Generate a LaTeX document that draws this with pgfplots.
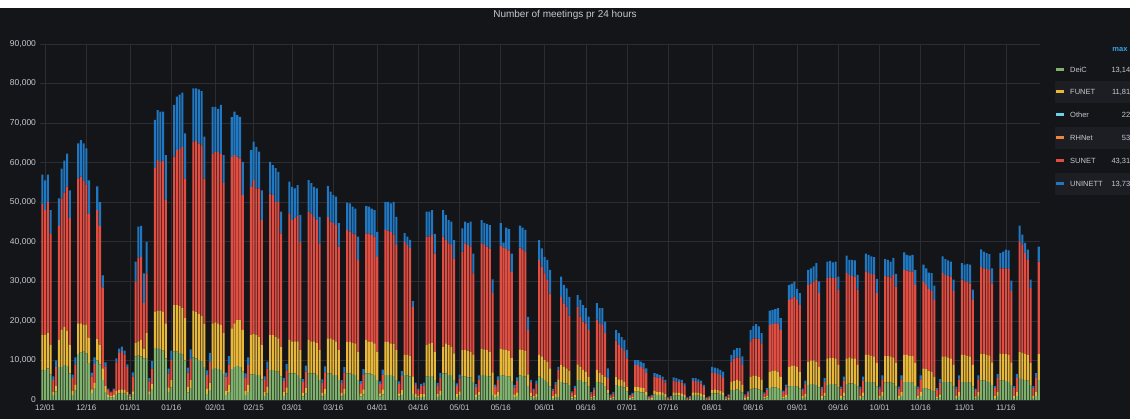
\documentclass[border=0pt]{standalone}
\usepackage{fontspec}
\setmainfont{Liberation Sans}
\usepackage{pgfplots}
\usepackage{pgfplotstable}
\pgfplotsset{compat=1.18}
\pgfdeclarelayer{background}
\pgfsetlayers{background,main}
\definecolor{bg}{HTML}{141519}
\definecolor{gridc}{HTML}{2B2D32}
\definecolor{txt}{HTML}{C4C8CE}
\definecolor{rowbg}{HTML}{1D1E23}
\definecolor{cDeiC}{HTML}{7EB26D}
\definecolor{cFUNET}{HTML}{EAB839}
\definecolor{cOther}{HTML}{6ED0E0}
\definecolor{cRHNet}{HTML}{EF843C}
\definecolor{cSUNET}{HTML}{E24D42}
\definecolor{cUNINETT}{HTML}{1F78C1}
\definecolor{cmax}{HTML}{33A2E5}

\pgfplotstableread{
d G F S U
-1 7500 9000 33000 7500
0 7600 8900 31500 7500
1 8000 9000 33000 7000
2 6500 7500 28000 6000
3 1200 900 3000 900
4 2200 1300 4800 1700
5 8300 6900 28800 7000
6 8400 9300 33300 7500
7 8900 9600 34000 8000
8 8600 8900 36500 8300
9 6700 7300 32000 7000
10 1300 1000 3200 900
11 2400 1400 5200 1800
12 11600 7800 36600 8900
13 12000 7400 37100 9200
14 12200 6800 36500 9400
15 11800 7200 35500 9100
16 9300 6400 31300 8500
17 1800 900 3300 900
18 3000 1300 4800 1700
19 10000 5500 32500 6000
20 9000 5000 30000 6000
21 5000 3000 20500 3000
22 2000 1500 5000 1000
23 800 600 1200 300
24 600 400 900 200
25 800 500 1300 300
26 1500 800 7200 1000
27 1700 900 9300 1100
28 1800 900 9700 1100
29 1700 900 8900 1000
30 1300 700 6300 700
31 400 300 600 200
32 1500 700 3800 1000
33 11000 3400 15600 5000
34 11200 3600 21200 7800
35 11000 4200 21000 7800
36 10500 2500 11500 7500
37 10600 6300 15100 8000
38 1500 700 2500 800
39 2800 1200 4000 1800
40 13100 9200 36300 12200
41 13100 9500 38100 12600
42 12900 9700 37600 12700
43 12500 9800 38200 12400
44 10500 8900 31100 11400
45 2000 1200 3500 1200
46 3200 1800 5200 2300
47 12200 11800 37500 13100
48 12200 11800 39200 13500
49 11900 11800 39800 13700
50 11500 11700 40800 13700
51 10000 10700 35300 11400
52 1900 1400 3600 1300
53 3000 2000 5400 2400
54 10800 11800 42700 13500
55 10500 11700 43300 13300
56 10100 11600 43200 13600
57 9700 11600 43100 13700
58 8400 10900 36700 10600
59 1500 1300 3500 1200
60 2500 1900 5200 2300
61 7800 11600 42900 11800
62 8100 11500 43100 11400
63 7800 11600 43300 10900
64 7600 11400 43200 12400
65 6600 10300 37900 7100
66 1200 1200 3500 1000
67 2000 1800 5200 2100
68 7800 10300 43300 10100
69 8400 11000 42500 11000
70 8600 11600 41300 10500
71 8400 11800 40900 10500
72 7200 10500 34100 8400
73 1200 1200 3300 1000
74 2000 1800 5000 2000
75 6500 10000 37400 9300
76 6500 10300 38800 9700
77 6300 10200 37000 10500
78 6300 9700 37500 9300
79 5200 8800 31500 7500
80 1000 1100 3000 900
81 1700 1600 4600 1800
82 7600 8800 35800 8000
83 7600 8800 35400 7600
84 7200 8800 34100 8500
85 7200 8400 34500 7600
86 5900 7600 28600 5500
87 1000 1000 2800 800
88 1700 1500 4300 1600
89 6700 8500 32000 8000
90 6700 8100 30700 8400
91 6700 8100 31200 7500
92 6300 8500 31700 7800
93 5500 7100 27400 6800
94 900 900 2700 800
95 1600 1400 4200 1500
96 6700 8500 32400 8000
97 6700 8100 32400 7600
98 6700 8100 31500 7600
99 6300 8100 31100 8000
100 5100 7500 27000 6700
101 900 900 2600 800
102 1500 1400 4100 1500
103 6700 8900 30700 7800
104 6700 8900 29500 7600
105 6300 8900 29500 7100
106 6300 8500 29400 7200
107 5100 7500 26200 5900
108 900 900 2500 700
109 1500 1400 4000 1400
110 6700 8000 28300 6900
111 6700 8000 27900 7100
112 6600 7900 27600 6800
113 6300 8000 27400 6700
114 5100 7100 23200 5900
115 900 800 2400 700
116 1400 1300 3800 1300
117 6700 8500 26900 6900
118 6700 8000 27400 6800
119 6500 8200 27000 6700
120 6300 8000 27000 6700
121 5100 7100 24000 6300
122 900 800 2300 700
123 1400 1300 3700 1300
124 6300 8400 28300 7100
125 6300 8400 28100 7300
126 6300 8000 28200 7200
127 6100 8000 27800 8200
128 5100 7500 26600 7100
129 900 800 2300 700
130 1300 1200 3600 1200
131 6300 5100 28600 2200
132 6200 5200 27800 2100
133 6000 5200 27200 2100
134 1500 4500 17500 1500
135 700 800 2300 600
136 600 500 1400 400
137 800 700 2000 600
138 800 700 2200 700
139 6000 8000 27300 6300
140 6100 8200 27000 6300
141 6100 8300 27300 6300
142 5000 7200 24800 5000
143 800 700 2200 600
144 1200 1100 3400 1100
145 6700 6800 27800 6700
146 6700 7600 26100 6400
147 6300 7600 25700 5900
148 6300 7200 25700 5900
149 5100 6700 24000 4600
150 800 700 2100 600
151 1200 1000 3200 1000
152 5900 6700 24900 5900
153 5900 6700 27000 5500
154 5700 6800 26700 5500
155 5700 6500 26600 6300
156 4600 6800 20600 5000
157 700 700 2000 600
158 1100 1000 3100 1000
159 6300 6700 26600 5900
160 6300 6500 26400 5600
161 6100 6500 26200 5700
162 6000 6200 26100 5900
163 1200 5800 20000 3500
164 700 700 1900 600
165 1000 1000 3000 1000
166 6300 6700 26000 5700
167 6200 6600 25800 1200
168 6100 6500 25600 5400
169 6000 6400 25400 5400
170 4800 5800 21800 4600
171 700 700 1800 600
172 1000 900 2900 900
173 6200 6600 25700 5600
174 6100 6500 25500 5500
175 6000 6400 25200 5400
176 3500 3000 11200 3300
177 900 900 2700 600
178 500 500 1500 400
179 800 800 2500 800
180 5900 5500 24000 5000
181 5500 5500 22700 4600
182 5100 5000 21900 4200
183 4600 5100 20600 5100
184 3400 4600 18900 6000
185 500 500 1400 400
186 800 700 2300 700
187 700 4500 2500 700
188 4600 4200 17300 5100
189 4200 4200 16000 4700
190 4200 3800 15600 4600
191 3800 3600 13900 4800
192 400 400 1100 300
193 600 600 1800 600
194 5000 4000 14600 2900
195 5100 3300 12700 4200
196 4600 3000 12200 4200
197 4400 2800 12200 3800
198 3400 2500 11800 3400
199 400 300 1000 300
200 600 500 1500 500
201 4600 3000 12700 4200
202 4400 2400 12600 3800
203 4200 2100 12700 4200
204 3500 2400 11000 2900
205 1700 800 3000 2500
206 300 200 600 300
207 400 300 900 400
208 3800 2100 9100 2700
209 3500 1700 8700 3000
210 3400 1700 8000 2800
211 3200 1400 7800 2800
212 2100 1300 7100 2200
213 300 200 500 200
214 400 300 800 300
215 2100 1300 5500 1200
216 2100 1300 5500 1200
217 1900 1300 5200 1300
218 1900 1100 5000 1300
219 1300 800 4700 1200
220 200 150 400 150
221 300 200 600 200
222 1400 900 3600 900
223 1300 800 3600 900
224 1300 700 3500 800
225 1200 700 3300 700
226 800 700 2900 700
227 150 100 300 100
228 200 150 450 150
229 1200 700 3000 800
230 1100 700 2900 800
231 1100 700 2700 700
232 1000 700 2700 700
233 800 500 2300 600
234 150 100 300 100
235 200 150 450 150
236 1200 700 2900 700
237 1200 700 2900 700
238 1100 700 2700 700
239 1000 700 2500 700
240 800 500 2000 500
241 150 100 300 100
242 250 150 450 150
243 1700 800 4400 1500
244 1700 1000 4100 1400
245 1700 800 4100 1400
246 1500 900 3900 1300
247 1300 600 3600 1700
248 200 150 400 150
249 300 200 700 250
250 2400 2200 5100 1700
251 2500 2300 5700 2200
252 2700 2400 5700 2300
253 2500 2400 5900 2300
254 1900 1900 5100 2100
255 300 250 600 250
256 450 350 1000 400
257 2700 3200 8900 2900
258 2900 3200 9500 3100
259 2900 3200 9500 3600
260 2700 3200 9500 3200
261 2400 2700 9200 2600
262 400 300 900 300
263 600 500 1400 500
264 3000 4200 11800 3600
265 3200 4200 11800 3600
266 3200 4300 11900 3600
267 3000 4200 12200 3800
268 2500 3400 11800 3000
269 400 400 1200 400
270 700 600 1900 700
271 3400 5000 16900 3800
272 3500 5100 17100 3700
273 3500 5100 17600 3700
274 3400 5000 16900 2800
275 2900 4300 16800 3000
276 500 500 1500 400
277 800 800 2500 800
278 3800 5900 19400 3800
279 4000 6000 19500 3800
280 4000 6000 19900 3900
281 3800 5900 20700 4200
282 3200 5200 18600 3000
283 500 600 1700 500
284 900 900 2800 900
285 3800 6700 20300 4200
286 4000 6600 20400 4200
287 4000 6600 20200 4000
288 3900 6600 20300 4200
289 3200 5700 19000 3300
290 500 600 1800 500
291 900 1000 3000 1000
292 4000 6500 21600 4400
293 4200 6600 20800 3800
294 4200 6300 20900 4000
295 4000 6500 20700 4100
296 3400 5500 19000 3700
297 500 600 1800 500
298 900 1000 3000 1000
299 4600 6800 21100 4500
300 4600 6800 20700 4600
301 4500 6700 20700 4400
302 4400 6600 20600 4500
303 3400 5900 17700 3600
304 500 600 1800 500
305 1000 1000 3200 1000
306 4400 6700 20300 4200
307 4400 6700 20100 4200
308 4400 6600 20000 4000
309 4200 6600 20800 4300
310 3400 5900 19400 3200
311 500 600 1800 500
312 1000 1000 3200 1000
313 4600 6800 21500 4400
314 4600 6800 21300 4000
315 4500 6700 21300 4000
316 4400 6700 21400 4200
317 3500 5800 19800 3800
318 500 600 1800 500
319 1000 1000 3200 1000
320 3000 5000 22000 4200
321 2900 4900 21300 4200
322 2700 4700 20600 4200
323 2500 4700 20400 4500
324 2100 3800 19400 3600
325 400 400 1700 500
326 700 700 3000 900
327 4600 6400 21100 4200
328 4600 6400 20600 4000
329 4500 6300 20600 3900
330 4400 6100 20700 3800
331 3400 5500 18700 2800
332 500 600 1800 500
333 1000 1000 3200 1000
334 4600 6800 19000 4200
335 4600 6800 18600 4200
336 4500 6600 18900 4400
337 4400 6600 18500 4700
338 3400 5500 16400 2600
339 400 500 1600 400
340 1000 1000 3200 1000
341 4900 6800 21900 4500
342 4900 6800 21600 4200
343 4800 6600 21700 4000
344 4600 6700 21600 4000
345 3800 5700 20000 3800
346 500 600 1900 500
347 1000 1100 3400 1100
348 4900 6800 21600 3800
349 4900 6800 21600 4200
350 4800 6800 21700 4700
351 4600 6800 21700 4700
352 3800 5700 18000 2700
353 500 600 1900 500
354 1000 1100 3400 1100
355 5500 6700 27900 4000
356 5300 6700 27200 2600
357 5100 6500 25500 2600
358 4900 6500 24000 2600
359 3800 5500 19000 2100
360 500 600 1900 500
361 1000 1100 3600 1100
362 5100 6500 23400 3800
}\data

\begin{document}
\begin{tikzpicture}
\begin{axis}[
  scale only axis, width=1000pt, height=356pt,
  xmin=-1.86, xmax=362.45, ymin=0, ymax=90000,
  ybar stacked, bar width=2.05pt,
  axis line style={draw=none},
  major tick length=0pt,
  xtick={0,15,31,46,62,76,90,105,121,136,151,166,182,197,212,227,243,258,274,289,304,319,335,350},
  xticklabels={12/01,12/16,01/01,01/16,02/01,02/15,03/01,03/16,04/01,04/16,05/01,05/16,06/01,06/16,07/01,07/16,08/01,08/16,09/01,09/16,10/01,10/16,11/01,11/16},
  ytick={0,10000,20000,30000,40000,50000,60000,70000,80000,90000},
  scaled y ticks=false,
  /pgf/number format/assume math mode=true,
  /pgf/number format/1000 sep={,},
  grid=major,
  major grid style={draw=gridc, line width=0.6pt},
  xticklabel style={text=txt, font=\fontsize{8}{9}\selectfont, yshift=-1.5pt},
  yticklabel style={text=txt, font=\fontsize{8.5}{9}\selectfont, xshift=-0.5pt},
]
\coordinate (O) at (rel axis cs:0,0);
\addplot[fill=cDeiC, draw=none] table[x=d,y=G]{\data};
\addplot[fill=cFUNET, draw=none] table[x=d,y=F]{\data};
\addplot[fill=cSUNET, draw=none] table[x=d,y=S]{\data};
\addplot[fill=cUNINETT, draw=none] table[x=d,y=U]{\data};
\end{axis}
\pgfresetboundingbox
\begin{scope}[shift={(O)}, x=1pt, y=1pt]
\path[use as bounding box] (-40,-19) rectangle (1090,400);
\begin{pgfonlayer}{background}
\fill[white] (-40,-19) rectangle (1090,400);
\fill[bg] (-40,-19) rectangle (1090,392);
\fill[rowbg] (1015,297) rectangle (1090,319);
\fill[rowbg] (1015,251) rectangle (1090,273);
\fill[rowbg] (1015,205) rectangle (1090,227);
\end{pgfonlayer}
% title
\node[text=txt, font=\fontsize{10}{11}\selectfont] at (525,385.5) {Number of meetings pr 24 hours};
% legend
\node[text=cmax, font=\bfseries\fontsize{7.5}{9}\selectfont, anchor=east] at (1091,350) {max};
\foreach \yy/\cc/\nn/\vv in {330/cDeiC/DeiC/{13,14}, 308/cFUNET/FUNET/{11,81}, 285/cOther/Other/22, 262/cRHNet/RHNet/53, 239/cSUNET/SUNET/{43,31}, 216/cUNINETT/UNINETT/{13,73}}{
  \fill[\cc] (1016,\yy-1.5) rectangle (1024,\yy+1.5);
  \node[text=txt, font=\fontsize{7.5}{9}\selectfont, anchor=west, inner sep=0pt] at (1030,\yy) {\nn};
  \node[text=txt, font=\fontsize{7.5}{9}\selectfont, anchor=east, inner sep=0pt] at (1090.5,\yy) {\vv};
}
\end{scope}
\end{tikzpicture}
\end{document}
